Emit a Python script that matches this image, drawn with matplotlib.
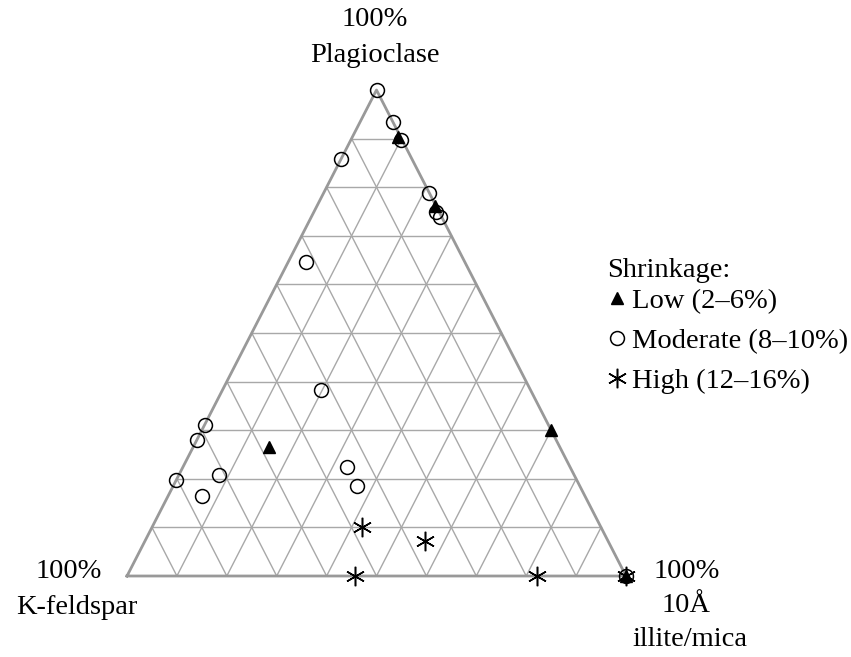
import matplotlib
matplotlib.use('Agg')
import matplotlib.pyplot as plt
import numpy as np

plt.rcParams['font.family'] = ['Liberation Serif', 'DejaVu Serif']

# ternary compositions (fractions): plagioclase, illite/mica; K-feldspar = rest
low_plag = [0.903, 0.761, 0.265, 0.300, 0.0]
low_illite = [0.091, 0.236, 0.152, 0.700, 1.0]

mod_plag = [1.0, 0.935, 0.897, 0.858, 0.788, 0.748, 0.739, 0.646, 0.383,
            0.311, 0.280, 0.198, 0.208, 0.165, 0.224, 0.185, 0.0]
mod_illite = [0.0, 0.065, 0.100, 0.0, 0.211, 0.246, 0.257, 0.036, 0.197,
              0.0, 0.0, 0.0, 0.080, 0.068, 0.329, 0.368, 1.0]

high_plag = [0.101, 0.072, 0.0, 0.0, 0.0]
high_illite = [0.421, 0.561, 0.457, 0.822, 1.0]

W, H = 851, 657
fig = plt.figure(figsize=(W / 100, H / 100), dpi=100)
ax = fig.add_axes([127 / W, 81 / H, 499 / W, 486 / H])
ax.set_xlim(0, 1)
ax.set_ylim(0, 1)
ax.axis('off')


def xy(p, i):
    p = np.asarray(p, dtype=float)
    i = np.asarray(i, dtype=float)
    return i + p / 2, p


# grid every 10%
for t in np.arange(0.1, 1.0, 0.1):
    # constant plagioclase
    x, y = xy([t, t], [0, 1 - t])
    ax.plot(x, y, color='#a8a8a8', lw=1.0, zorder=1)
    # constant illite
    x, y = xy([0, 1 - t], [t, t])
    ax.plot(x, y, color='#a8a8a8', lw=1.0, zorder=1)
    # constant K-feldspar
    x, y = xy([0, 1 - t], [1 - t, 0])
    ax.plot(x, y, color='#a8a8a8', lw=1.0, zorder=1)

x, y = xy([0, 0, 1, 0], [0, 1, 0, 0])
ax.plot(x, y, color='#999999', lw=2.0, zorder=2, clip_on=False)

x, y = xy(mod_plag, mod_illite)
ax.plot(x, y, 'o', mfc='none', mec='black', mew=1.1, ms=10, ls='none',
        zorder=3, clip_on=False, label='Moderate (8\u201310%)')
x, y = xy(low_plag, low_illite)
ax.plot(x, y, '^', color='black', ms=9, ls='none', zorder=4,
        clip_on=False, label='Low (2\u20136%)')
x, y = xy(high_plag, high_illite)
ax.plot(x, y, marker=(6, 2, 0), color='black', mew=1.1, ms=14, ls='none',
        zorder=4, clip_on=False, label='High (12\u201316%)')

fs = 20.5

h, l = ax.get_legend_handles_labels()
order = [1, 0, 2]
leg = ax.legend([h[k] for k in order], [l[k] for k in order],
                title='Shrinkage:', frameon=False, loc='upper left',
                bbox_to_anchor=(604 / W, 1 - 255 / H),
                bbox_transform=fig.transFigure, alignment='left',
                fontsize=fs, title_fontsize=fs, handlelength=0.7,
                handletextpad=0.2, labelspacing=0.48, borderpad=0.1,
                borderaxespad=0, markerscale=1.0)
leg._legend_box.sep = 4


def ftext(px, py, s):
    fig.text(px / W, 1 - py / H, s, ha='center', va='center', fontsize=fs)


ftext(375, 19, '100%')
ftext(375, 55, 'Plagioclase')
ftext(69, 571, '100%')
ftext(77, 607, 'K-feldspar')
ftext(687, 571, '100%')
ftext(686, 606, '10\u00c5')
ftext(690, 640, 'illite/mica')

fig.savefig('out.png', dpi=100)
